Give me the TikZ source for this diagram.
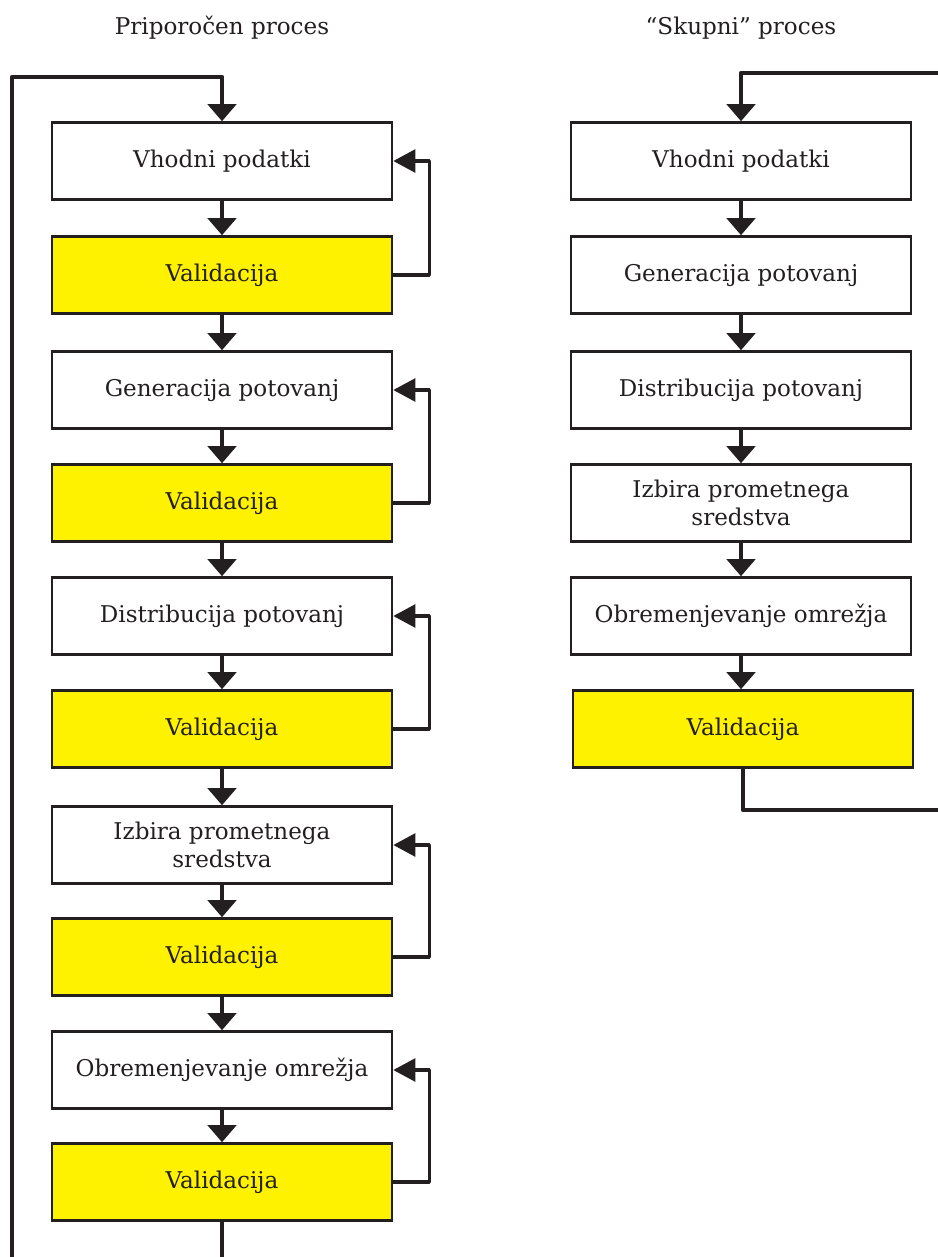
\documentclass[tikz,border=0pt]{standalone}
\usepackage{fontspec}
\setmainfont{DejaVu Serif}
\usetikzlibrary{arrows.meta}
\definecolor{ink}{RGB}{35,31,32}
\definecolor{valyellow}{RGB}{255,242,0}
\tikzset{
  stepbox/.style={draw=ink, line width=1.9pt, fill=white, minimum width=255pt, minimum height=57.75pt,
    inner sep=0pt, align=center, text=ink, font=\fontsize{17.3}{21}\selectfont},
  valbox/.style={stepbox, fill=valyellow},
  flow/.style={draw=ink, line width=3.5pt, line join=round, -{Triangle[width=21pt,length=12.75pt]}},
  back/.style={draw=ink, line width=2.6pt, line join=round, -{Triangle[width=17pt,length=16.5pt]}},
  title/.style={text=ink, font=\fontsize{17.3}{21}\selectfont}
}

\begin{document}
\begin{tikzpicture}[x=0.75pt, y=-0.75pt]
		%%%%% START %%%%%
		\useasboundingbox (0,0) rectangle (938,1257);
		
		\node[title] (tleft) at (222,28) {Priporočen proces};
		\node[title] (tright) at (741,28) {“Skupni” proces};
		
		%% priporocen proces
		\node[stepbox] (vhod) at (222,161) {Vhodni podatki};
		\node[valbox] (val1) at (222,275) {Validacija};
		\node[stepbox] (gen) at (222,390) {Generacija potovanj};
		\node[valbox] (val2) at (222,503) {Validacija};
		\node[stepbox] (dist) at (222,616) {Distribucija potovanj};
		\node[valbox] (val3) at (222,729) {Validacija};
		\node[stepbox] (izb) at (222,845) {Izbira prometnega\\sredstva};
		\node[valbox] (val4) at (222,957) {Validacija};
		\node[stepbox] (obr) at (222,1070) {Obremenjevanje omrežja};
		\node[valbox] (val5) at (222,1182) {Validacija};
		
		\draw[flow] (vhod) -- (val1);
		\draw[flow] (val1) -- (gen);
		\draw[flow] (gen) -- (val2);
		\draw[flow] (val2) -- (dist);
		\draw[flow] (dist) -- (val3);
		\draw[flow] (val3) -- (izb);
		\draw[flow] (izb) -- (val4);
		\draw[flow] (val4) -- (obr);
		\draw[flow] (obr) -- (val5);
		
		\draw[back] (val1.east) -- ++(36,0) |- (vhod.east);
		\draw[back] (val2.east) -- ++(36,0) |- (gen.east);
		\draw[back] (val3.east) -- ++(36,0) |- (dist.east);
		\draw[back] (val4.east) -- ++(36,0) |- (izb.east);
		\draw[back] (val5.east) -- ++(36,0) |- (obr.east);
		
		\coordinate (loopbot) at (12,1262);
		\coordinate (looptop) at (12,77);
		\coordinate (outbot) at (222,1262);
		\draw[flow] (loopbot) -- (looptop) -| (vhod.north);
		\draw[flow,-] (val5) -- (outbot);
		
		%% skupni proces
		\node[stepbox] (rvhod) at (741,161) {Vhodni podatki};
		\node[stepbox] (rgen) at (741,275) {Generacija potovanj};
		\node[stepbox] (rdist) at (741,390) {Distribucija potovanj};
		\node[stepbox] (rizb) at (741,503) {Izbira prometnega\\sredstva};
		\node[stepbox] (robr) at (741,616) {Obremenjevanje omrežja};
		\node[valbox] (rval) at (743,729) {Validacija};
		
		\draw[flow] (rvhod) -- (rgen);
		\draw[flow] (rgen) -- (rdist);
		\draw[flow] (rdist) -- (rizb);
		\draw[flow] (rizb) -- (robr);
		\draw[flow] (robr.south) -- (robr.south |- rval.north);
		
		\coordinate (rtop) at (943,73);
		\coordinate (rbot) at (943,810);
		\draw[flow] (rtop) -| (rvhod.north);
		\draw[flow,-] (rval.south) |- (rbot);
		
		%%%%% END %%%%%
\end{tikzpicture}
\end{document}
